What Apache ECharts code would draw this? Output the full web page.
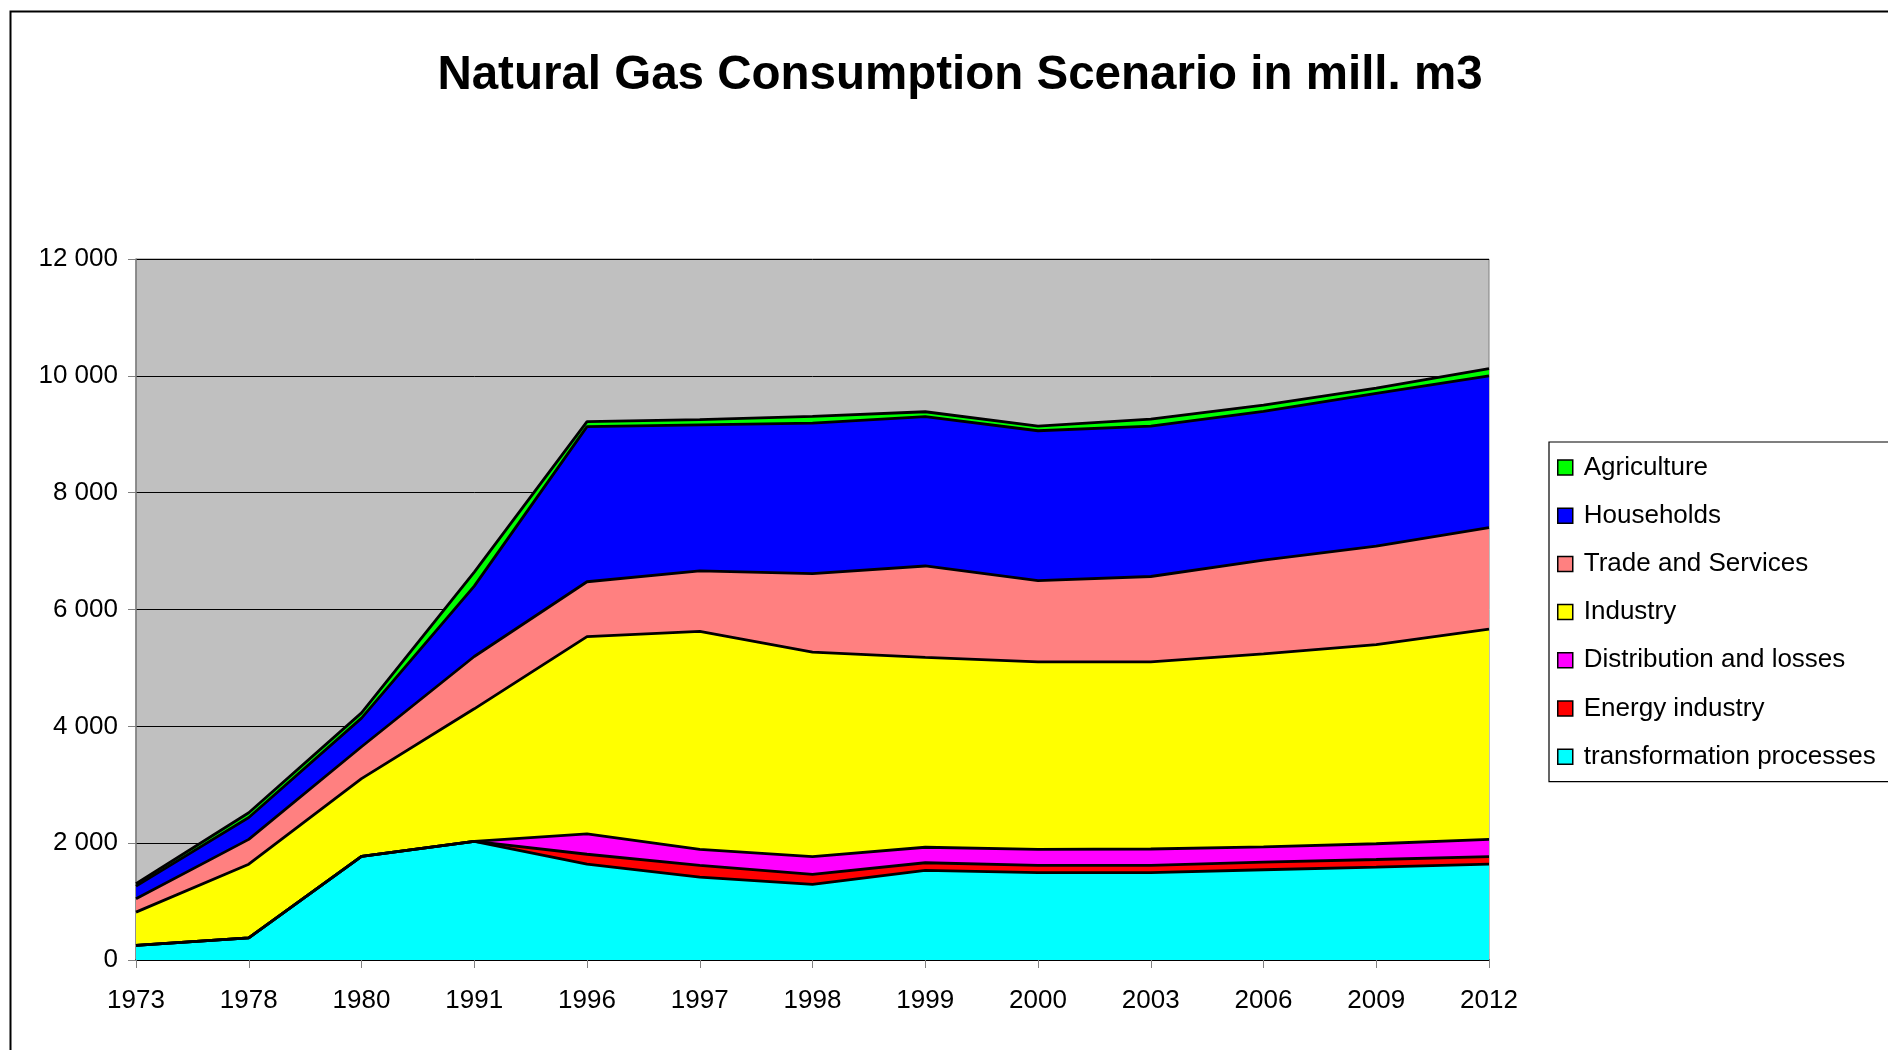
<!DOCTYPE html>
<html>
<head>
<meta charset="utf-8">
<script src="https://cdn.jsdelivr.net/npm/echarts@6/dist/echarts.min.js"></script>
<style>
html,body{margin:0;padding:0;background:#fff;}
#chart{width:1888px;height:1050px;}
</style>
</head>
<body>
<div id="chart"></div>
<script>
const years = ['1973','1978','1980','1991','1996','1997','1998','1999','2000','2003','2006','2009','2012'];
const transformation = [250, 380, 1775, 2030, 1640, 1420, 1295, 1535, 1495, 1495, 1545, 1590, 1640];
const energyIndustry = [0, 0, 0, 0, 170, 200, 170, 130, 125, 125, 130, 130, 130];
const distribution = [0, 0, 0, 0, 350, 275, 305, 265, 275, 280, 260, 270, 295];
const industry = [570, 1260, 1330, 2270, 3375, 3730, 3500, 3250, 3210, 3205, 3305, 3410, 3600];
const trade = [230, 425, 545, 895, 940, 1035, 1345, 1565, 1390, 1460, 1605, 1685, 1735];
const households = [215, 375, 490, 1205, 2655, 2500, 2575, 2555, 2565, 2575, 2545, 2615, 2600];
const agriculture = [40, 80, 90, 240, 85, 90, 115, 85, 80, 120, 110, 90, 125];
const legendOrder = ['Agriculture','Households','Trade and Services','Industry','Distribution and losses','Energy industry','transformation processes'];

const FONT = "'Liberation Sans', Arial, sans-serif";
function mk(name, data, color) {
  return {
    name: name, type: 'line', stack: 'total', data: data,
    symbol: 'none', smooth: false,
    itemStyle: { color: color },
    lineStyle: { color: '#000', width: 2.8 },
    areaStyle: { color: color, opacity: 1 },
    emphasis: { disabled: true }
  };
}
const chart = echarts.init(document.getElementById('chart'));
chart.setOption({
  backgroundColor: '#fff',
  animation: false,
  title: {
    text: 'Natural Gas Consumption Scenario in mill. m3',
    left: 955, top: 47, textAlign: 'center',
    textStyle: { fontFamily: FONT, fontWeight: 'bold', fontSize: 47.5, color: '#000' }
  },
  graphic: [{
    type: 'rect', left: 8, top: 9, silent: true,
    shape: { width: 1900, height: 1100 },
    style: { fill: 'none', stroke: '#000', lineWidth: 2 }
  }],
  legend: {
    orient: 'vertical', left: 1549, top: 442,
    data: legendOrder,
    icon: 'rect', itemWidth: 15, itemHeight: 15, itemGap: 18.2,
    padding: [10.5, 60, 10, 8],
    borderColor: '#000', borderWidth: 1.2, backgroundColor: '#fff',
    itemStyle: { borderColor: '#000', borderWidth: 1.5 },
    textStyle: { fontFamily: FONT, fontSize: 26, color: '#000', lineHeight: 30, padding: [0, 0, 0, 6] },
    selectedMode: false
  },
  grid: {
    left: 136, right: 399, top: 259, bottom: 90,
    show: true, backgroundColor: '#C0C0C0', borderColor: '#808080', borderWidth: 1
  },
  xAxis: {
    type: 'category', data: years, boundaryGap: false,
    axisLine: { lineStyle: { color: '#000', width: 1.5 } },
    axisTick: { show: true, length: 8, alignWithLabel: true, lineStyle: { color: '#808080' } },
    axisLabel: { fontFamily: FONT, fontSize: 26, color: '#000', margin: 28 },
    splitLine: { show: false }
  },
  yAxis: {
    type: 'value', min: 0, max: 12000, interval: 2000,
    axisLine: { show: true, lineStyle: { color: '#808080', width: 1.5 } },
    axisTick: { show: true, length: 8, lineStyle: { color: '#808080' } },
    axisLabel: {
      fontFamily: FONT, fontSize: 26, color: '#000', margin: 18,
      formatter: function (v) { return String(v).replace(/\B(?=(\d{3})+(?!\d))/g, ' '); }
    },
    splitLine: { show: true, lineStyle: { color: '#000', width: 1 } }
  },
  series: [
    mk('transformation processes', transformation, '#00FFFF'),
    mk('Energy industry', energyIndustry, '#FF0000'),
    mk('Distribution and losses', distribution, '#FF00FF'),
    mk('Industry', industry, '#FFFF00'),
    mk('Trade and Services', trade, '#FF8080'),
    mk('Households', households, '#0000FF'),
    mk('Agriculture', agriculture, '#00FF00')
  ]
});
</script>
</body>
</html>
